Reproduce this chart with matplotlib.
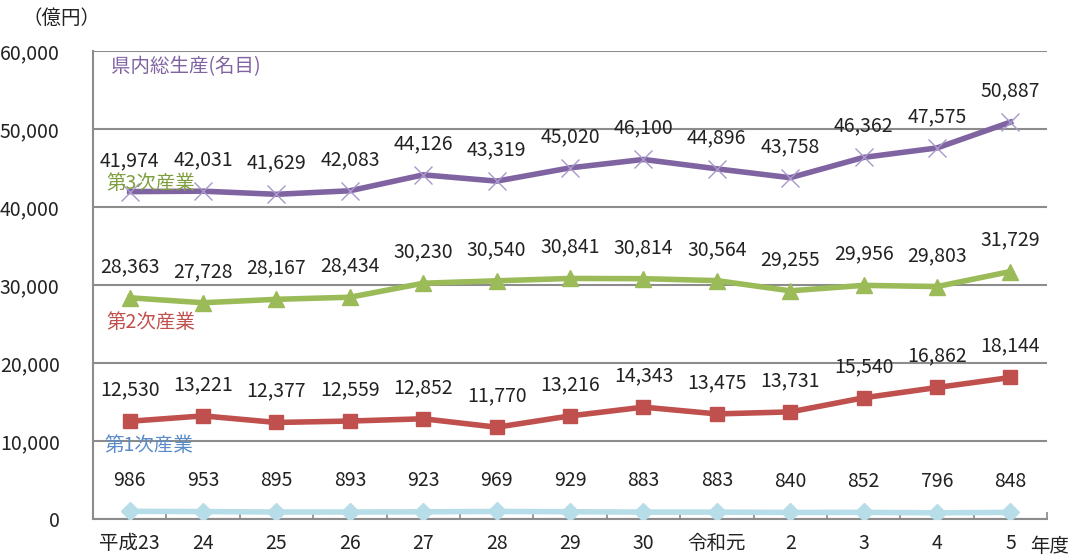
import matplotlib
matplotlib.use("Agg")
import matplotlib.pyplot as plt

plt.rcParams['font.family'] = ['Noto Sans CJK JP', 'DejaVu Sans']

categories = ["平成23", "24", "25", "26", "27", "28", "29", "30", "令和元", "2", "3", "4", "5"]
gdp = [41974, 42031, 41629, 42083, 44126, 43319, 45020, 46100, 44896, 43758, 46362, 47575, 50887]
tertiary = [28363, 27728, 28167, 28434, 30230, 30540, 30841, 30814, 30564, 29255, 29956, 29803, 31729]
secondary = [12530, 13221, 12377, 12559, 12852, 11770, 13216, 14343, 13475, 13731, 15540, 16862, 18144]
primary = [986, 953, 895, 893, 923, 969, 929, 883, 883, 840, 852, 796, 848]
yticks = [0, 10000, 20000, 30000, 40000, 50000, 60000]

FS = 14

fig = plt.figure(figsize=(10.74, 5.57), dpi=100)
ax = fig.add_axes([0.0866, 0.0682, 0.8884, 0.8402])

x = list(range(len(categories)))
series = [
    (gdp, '#8064A2', 'x', 13),
    (tertiary, '#9BBB59', '^', 11),
    (secondary, '#C0504D', 's', 10),
    (primary, '#B7DDE8', 'D', 9),
]
for vals, col, mk, ms in series:
    if mk == 'x':
        ax.plot(x, vals, color=col, lw=4, marker='x', markersize=ms,
                markeredgecolor='#A898CC', markeredgewidth=1.0, zorder=3)
    else:
        ax.plot(x, vals, color=col, lw=4, marker=mk, markersize=ms,
                markerfacecolor=col, markeredgecolor=col, zorder=3)
    for xi, v in zip(x, vals):
        ax.annotate(f"{v:,}", (xi, v), xytext=(0, 22.5), textcoords='offset points',
                    ha='center', va='center', fontsize=FS, color='#222222', zorder=4)

ax.set_xlim(-0.5, len(categories) - 0.5)
ax.set_ylim(0, 60000)
ax.set_yticks(yticks)
ax.set_yticklabels([f"{v:,}" for v in yticks], fontsize=FS, color='#222222')
ax.set_xticks(x)
ax.set_xticklabels(categories, fontsize=FS, color='#222222')
ax.set_xticks([i - 0.5 for i in range(len(categories) + 1)], minor=True)
ax.tick_params(axis='x', which='major', length=0, pad=10)
ax.tick_params(axis='x', which='minor', length=5, direction='in', color='#888888', width=1.2)
ax.tick_params(axis='y', length=0, pad=24)
ax.grid(axis='y', color='#8C8C8C', lw=1.5, zorder=0)
ax.set_axisbelow(True)
for s in ['top', 'right']:
    ax.spines[s].set_visible(False)
ax.spines['left'].set_color('#8C8C8C')
ax.spines['left'].set_linewidth(1.5)
ax.spines['bottom'].set_color('#8C8C8C')
ax.spines['bottom'].set_linewidth(1.5)

ax.text(-0.25, 58000, '県内総生産(名目)', color='#8064A2', fontsize=FS, va='center', ha='left')
ax.text(-0.32, 43000, '第3次産業', color='#7F9F3F', fontsize=FS, va='center', ha='left')
ax.text(-0.32, 25200, '第2次産業', color='#C0504D', fontsize=FS, va='center', ha='left')
ax.text(-0.35, 9400, '第1次産業', color='#5B8BC9', fontsize=FS, va='center', ha='left')

fig.text(22 / 1074, 1 - 18 / 557, '（億円）', fontsize=FS, color='#222222', va='center', ha='left')
fig.text(1030 / 1074, 1 - 547 / 557, '年度', fontsize=FS, color='#222222', va='center', ha='left')

fig.savefig('out.png', dpi=100)
